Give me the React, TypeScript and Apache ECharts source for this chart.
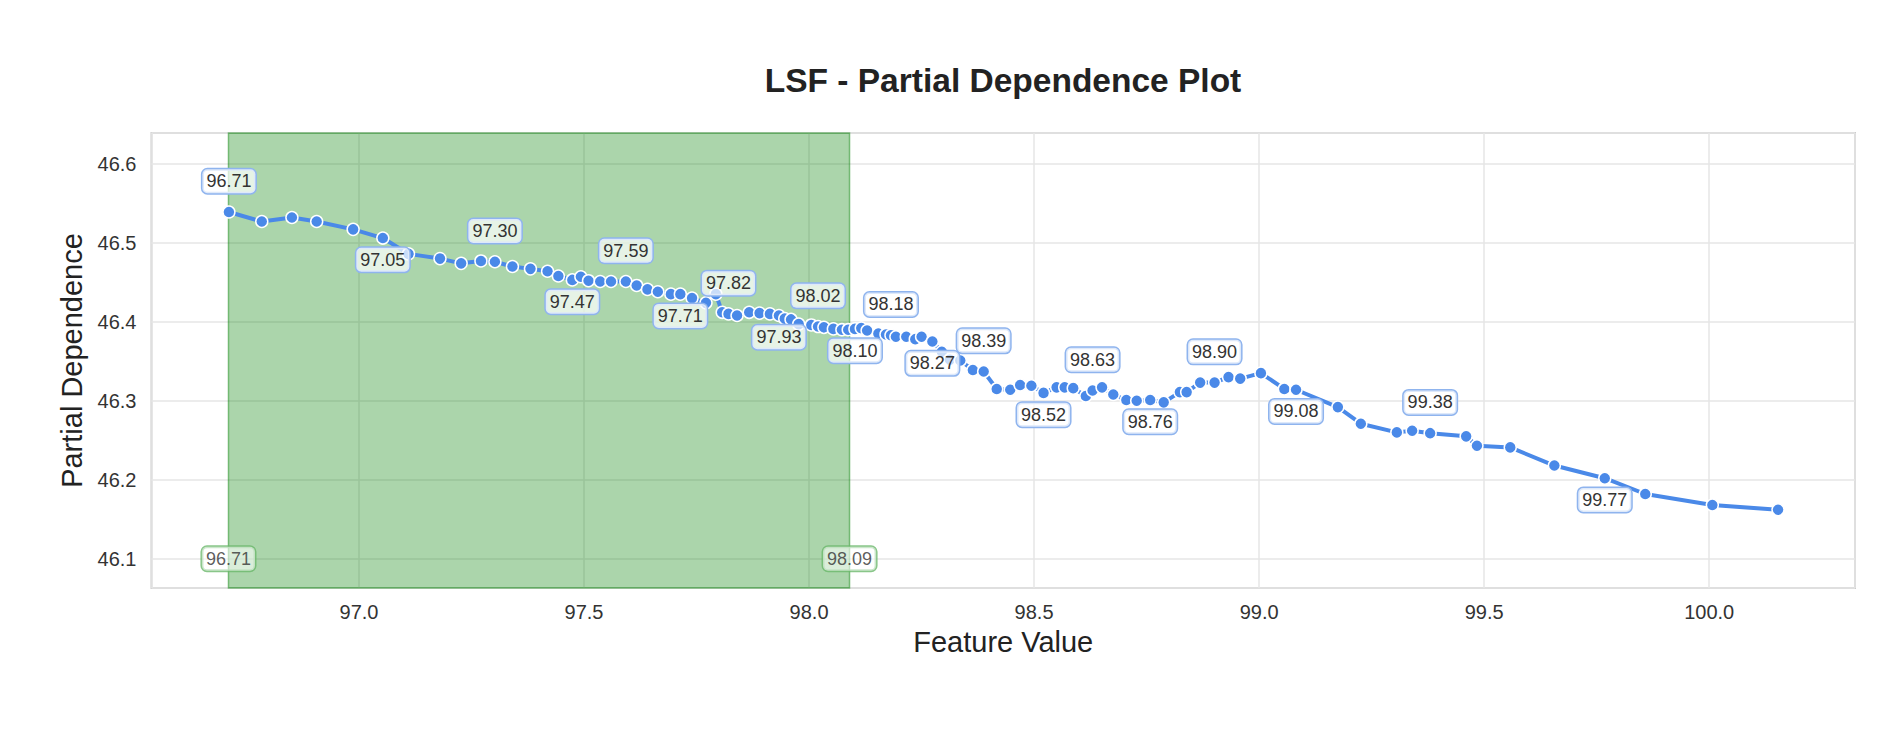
import React, { useEffect, useRef } from "react";
import * as echarts from "echarts";

const TITLE = "LSF - Partial Dependence Plot";
const X_NAME = "Feature Value";
const Y_NAME = "Partial Dependence";

const FEATURE_X = [
  96.711, 96.784, 96.851, 96.906, 96.987, 97.053, 97.11, 97.18, 97.227, 97.271,
  97.302, 97.341, 97.381, 97.419, 97.443, 97.474, 97.493, 97.51, 97.536, 97.56,
  97.593, 97.617, 97.641, 97.664, 97.693, 97.714, 97.74, 97.771, 97.793, 97.807,
  97.821, 97.84, 97.867, 97.89, 97.913, 97.933, 97.946, 97.96, 97.977, 98.005,
  98.02, 98.033, 98.054, 98.073, 98.087, 98.102, 98.116, 98.129, 98.154, 98.171,
  98.182, 98.193, 98.216, 98.236, 98.25, 98.274, 98.295, 98.313, 98.336, 98.364,
  98.388, 98.417, 98.447, 98.469, 98.494, 98.521, 98.55, 98.568, 98.587, 98.615,
  98.63, 98.651, 98.676, 98.705, 98.728, 98.758, 98.788, 98.824, 98.839, 98.869,
  98.901, 98.932, 98.958, 99.004, 99.056, 99.082, 99.175, 99.226, 99.306, 99.34,
  99.38, 99.46, 99.484, 99.558, 99.656, 99.768, 99.858, 100.007, 100.153,
];

const PARTIAL_DEP = [
  46.539, 46.527, 46.532, 46.527, 46.517, 46.506, 46.486, 46.48, 46.474, 46.477,
  46.476, 46.47, 46.467, 46.464, 46.458, 46.453, 46.457, 46.452, 46.451, 46.451,
  46.451, 46.446, 46.441, 46.438, 46.435, 46.435, 46.43, 46.424, 46.435, 46.412,
  46.41, 46.408, 46.412, 46.411, 46.41, 46.408, 46.404, 46.403, 46.397, 46.396,
  46.394, 46.393, 46.391, 46.39, 46.39, 46.391, 46.392, 46.389, 46.385, 46.384,
  46.383, 46.381, 46.381, 46.378, 46.381, 46.375, 46.362, 46.352, 46.351, 46.339,
  46.337, 46.315, 46.314, 46.32, 46.319, 46.31, 46.317, 46.317, 46.316, 46.306,
  46.313, 46.317, 46.308, 46.301, 46.3, 46.301, 46.298, 46.311, 46.311, 46.323,
  46.323, 46.33, 46.328, 46.335, 46.315, 46.314, 46.292, 46.271, 46.26, 46.262,
  46.259, 46.255, 46.243, 46.241, 46.218, 46.202, 46.182, 46.168, 46.162,
];

const BAND = [96.71, 98.09];
const BAND_LABEL_Y = 46.1;
const LABEL_EVERY = 5;

const X_MIN = 96.539;
const X_MAX = 100.324;
const Y_MIN = 46.063;
const Y_MAX = 46.639;

const FONT = "'Liberation Sans', Arial, Helvetica, sans-serif";
const LINE_COLOR = "#4a89e8";

export default function App() {
  const ref = useRef<HTMLDivElement | null>(null);

  useEffect(() => {
    if (!ref.current) return;
    const chart = echarts.init(ref.current, null, { renderer: "svg" });

    const mainData = FEATURE_X.map((x, i) => {
      const labeled = i % LABEL_EVERY === 0;
      const above = (i / LABEL_EVERY) % 2 === 0;
      return {
        value: [x, PARTIAL_DEP[i]],
        label: {
          show: labeled,
          position: above ? "top" : "bottom",
          distance: above ? 12 : 3,
        },
      };
    });

    const bandData = BAND.map((b) => ({ value: [b, BAND_LABEL_Y] }));

    const option = {
      animation: false,
      backgroundColor: "#ffffff",
      title: {
        text: TITLE,
        left: 1003,
        top: 63,
        textAlign: "center",
        padding: 0,
        textStyle: {
          fontFamily: FONT,
          fontSize: 33.5,
          fontWeight: "bold",
          color: "#222222",
        },
      },
      grid: {
        left: 151.5,
        right: 45,
        top: 133,
        bottom: 162,
        show: true,
        borderColor: "#cccccc",
        borderWidth: 2,
        backgroundColor: "transparent",
      },
      xAxis: {
        type: "value",
        min: X_MIN,
        max: X_MAX,
        splitNumber: 8,
        name: X_NAME,
        nameLocation: "middle",
        nameGap: 39,
        nameTextStyle: { fontFamily: FONT, fontSize: 29, color: "#222222" },
        axisLine: { show: false },
        axisTick: { show: false },
        axisLabel: {
          showMinLabel: false,
          showMaxLabel: false,
          margin: 14,
          fontFamily: FONT,
          fontSize: 20,
          color: "#333333",
          formatter: (v: number) => v.toFixed(1),
        },
        splitLine: { show: true, lineStyle: { color: "#e6e6e6", width: 1.5 } },
      },
      yAxis: {
        type: "value",
        min: Y_MIN,
        max: Y_MAX,
        splitNumber: 5,
        name: Y_NAME,
        nameLocation: "middle",
        nameGap: 64,
        nameTextStyle: { fontFamily: FONT, fontSize: 29, color: "#222222" },
        axisLine: { show: false },
        axisTick: { show: false },
        axisLabel: {
          showMinLabel: false,
          showMaxLabel: false,
          margin: 15,
          fontFamily: FONT,
          fontSize: 20,
          color: "#333333",
          formatter: (v: number) => v.toFixed(1),
        },
        splitLine: { show: true, lineStyle: { color: "#e6e6e6", width: 1.5 } },
      },
      series: [
        {
          type: "scatter",
          z: 1,
          silent: true,
          symbol: "circle",
          symbolSize: 0.1,
          itemStyle: { color: "rgba(0,0,0,0)" },
          data: bandData,
          label: {
            show: true,
            position: "inside",
            formatter: (p: any) => p.value[0].toFixed(2),
            fontFamily: FONT,
            fontSize: 18,
            color: "#333333",
            backgroundColor: "rgba(255,255,255,0.7)",
            borderColor: "#6cb86c",
            borderWidth: 1.5,
            borderRadius: 5,
            padding: [3, 4],
          },
          markArea: {
            silent: true,
            itemStyle: {
              color: "rgba(0,128,0,0.33)",
              borderColor: "rgba(0,128,0,0.45)",
              borderWidth: 1.5,
            },
            data: [[{ xAxis: BAND[0] }, { xAxis: BAND[1] }]],
          },
        },
        {
          type: "line",
          z: 3,
          silent: true,
          data: mainData,
          symbol: "circle",
          symbolSize: 12,
          showAllSymbol: true,
          lineStyle: { color: LINE_COLOR, width: 4 },
          itemStyle: {
            color: LINE_COLOR,
            borderColor: "#ffffff",
            borderWidth: 1.5,
          },
          label: {
            formatter: (p: any) => p.value[0].toFixed(2),
            fontFamily: FONT,
            fontSize: 18,
            color: "#333333",
            backgroundColor: "rgba(255,255,255,0.7)",
            borderColor: "#8fb4ee",
            borderWidth: 1.5,
            borderRadius: 5,
            padding: [3, 4],
          },
          emphasis: { disabled: true },
        },
      ],
    };

    chart.setOption(option as any);
    return () => {
      chart.dispose();
    };
  }, []);

  return (
    <div
      ref={ref}
      style={{
        position: "absolute",
        left: 0,
        top: 0,
        width: 1900,
        height: 750,
        background: "#ffffff",
      }}
    />
  );
}
